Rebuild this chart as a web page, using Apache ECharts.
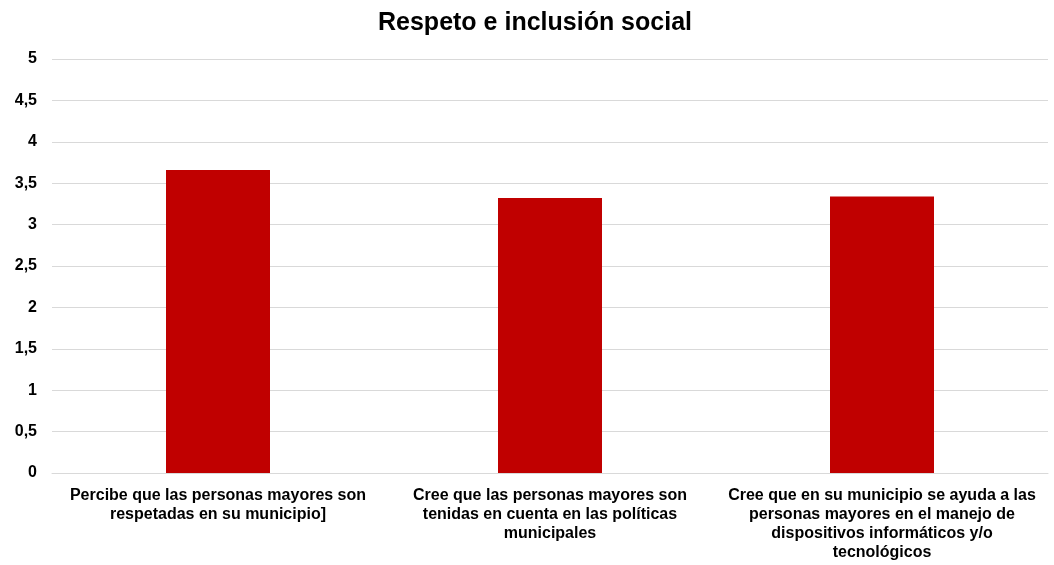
<!DOCTYPE html>
<html>
<head>
<meta charset="utf-8">
<script src="https://cdn.jsdelivr.net/npm/echarts@6/dist/echarts.min.js"></script>
<style>
  html, body { margin: 0; padding: 0; background: #fff; }
  #chart { width: 1054px; height: 565px; }
</style>
</head>
<body>
<div id="chart"></div>
<script>
const categories = [
  'Percibe que las personas mayores son\nrespetadas en su municipio]',
  'Cree que las personas mayores son\ntenidas en cuenta en las políticas\nmunicipales',
  'Cree que en su municipio se ayuda a las\npersonas mayores en el manejo de\ndispositivos informáticos y/o\ntecnológicos'
]
const values = [3.66, 3.32, 3.34]
const titleText = 'Respeto e inclusión social'

const chart = echarts.init(document.getElementById('chart'))
chart.setOption({
  animation: false,
  textStyle: { fontFamily: 'Liberation Sans, Arial, sans-serif' },
  title: {
    text: titleText,
    left: 530,
    textAlign: 'center',
    top: 6,
    textStyle: { color: '#000', fontSize: 25, fontWeight: 'bold' }
  },
  grid: { left: 52, right: 6, top: 59, bottom: 92, containLabel: false },
  xAxis: {
    type: 'category',
    data: categories,
    axisLine: { show: true, lineStyle: { color: '#d9d9d9', width: 1 } },
    axisTick: { show: false },
    axisLabel: {
      interval: 0,
      color: '#000',
      fontSize: 16,
      fontWeight: 'bold',
      lineHeight: 19,
      margin: 13,
      align: 'center'
    }
  },
  yAxis: {
    type: 'value',
    min: 0,
    max: 5,
    interval: 0.5,
    axisLine: { show: false },
    axisTick: { show: false },
    splitLine: { lineStyle: { color: '#d9d9d9', width: 1 } },
    axisLabel: {
      color: '#000',
      fontSize: 16,
      fontWeight: 'bold',
      margin: 15,
      formatter: v => String(v).replace('.', ',')
    }
  },
  series: [
    {
      type: 'bar',
      data: values,
      barWidth: 104,
      itemStyle: { color: '#c00000' }
    }
  ]
})
</script>
</body>
</html>
